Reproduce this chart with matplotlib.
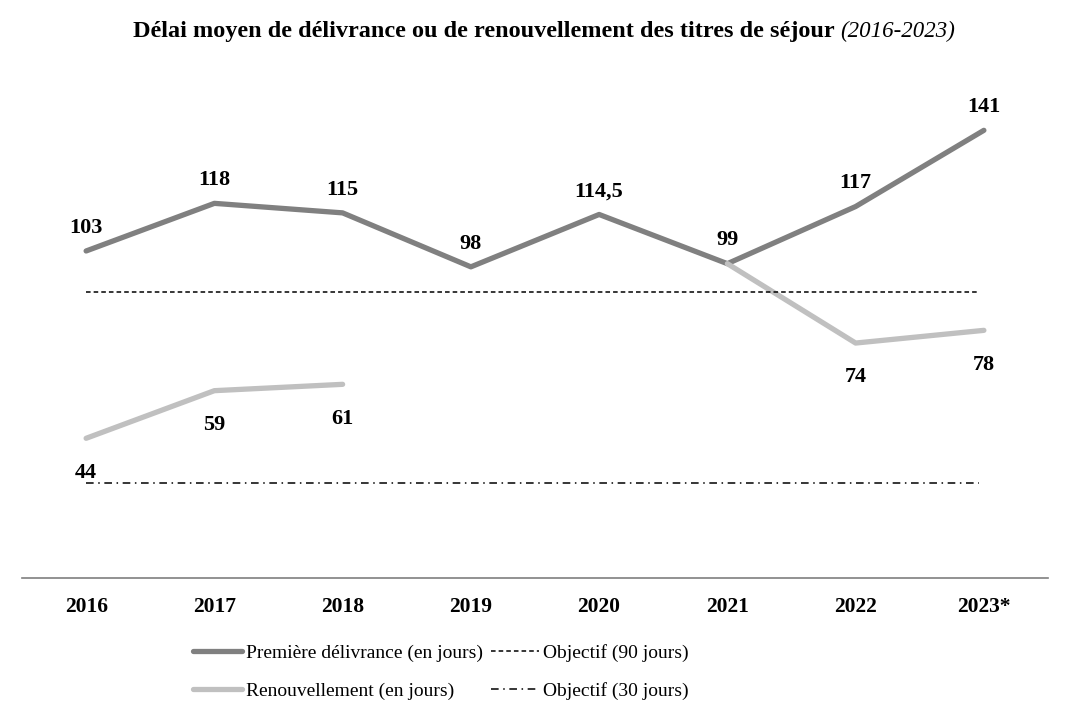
import matplotlib
matplotlib.use("Agg")
import matplotlib.pyplot as plt
import numpy as np

years = ["2016", "2017", "2018", "2019", "2020", "2021", "2022", "2023*"]
premiere = [103, 118, 115, 98, 114.5, 99, 117, 141]
renouv = [44, 59, 61, np.nan, np.nan, 99, 74, 78]
premiere_labels = ["103", "118", "115", "98", "114,5", "99", "117", "141"]
renouv_labels = ["44", "59", "61", "", "", "", "74", "78"]
objectif_1 = 90
objectif_2 = 30

plt.rcParams["font.family"] = ["Liberation Serif", "DejaVu Serif"]

fig = plt.figure(figsize=(10.7, 7.16), dpi=100)
ax = fig.add_axes([22 / 1070, 1 - 578 / 716, 1026 / 1070, 508 / 716])
x = np.arange(len(years))

l1, = ax.plot(x, premiere, color="#808080", lw=3.8, solid_capstyle="round",
              label="Première délivrance (en jours)", zorder=3)
l2, = ax.plot(x, renouv, color="#c0c0c0", lw=3.8, solid_capstyle="round",
              label="Renouvellement (en jours)", zorder=4)
l3, = ax.plot([x[0], x[-1] - 0.04], [objectif_1] * 2, color="black", lw=1.1,
              ls=(0, (3, 2)), label="Objectif (90 jours)", zorder=5)
l4, = ax.plot([x[0], x[-1] - 0.04], [objectif_2] * 2, color="black", lw=1.1,
              ls=(0, (5, 3, 1, 3)), label="Objectif (30 jours)", zorder=5)

for i, (v, t) in enumerate(zip(premiere, premiere_labels)):
    ax.annotate(t, (i, v), xytext=(0, 9.5), textcoords="offset points",
                ha="center", va="bottom", fontsize=16, fontweight="bold")
for i, (v, t) in enumerate(zip(renouv, renouv_labels)):
    if t:
        ax.annotate(t, (i, v), xytext=(0, -17.5), textcoords="offset points",
                    ha="center", va="top", fontsize=16, fontweight="bold")

ax.set_xlim(-0.5, 7.5)
ax.set_ylim(0, 160)
ax.set_yticks([])
ax.set_xticks(x)
ax.set_xticklabels(years, fontsize=15.5, fontweight="bold")
ax.tick_params(axis="x", length=0, pad=14)
for s in ["top", "left", "right"]:
    ax.spines[s].set_visible(False)
ax.spines["bottom"].set_color("#7f7f7f")
ax.spines["bottom"].set_linewidth(1.2)

fig.text(835 / 1070, 1 - 31 / 716,
         "Délai moyen de délivrance ou de renouvellement des titres de séjour",
         ha="right", va="center", fontsize=17.5, fontweight="bold")
fig.text(840 / 1070, 1 - 31 / 716, "(2016-2023)", ha="left", va="center",
         fontsize=16.5, fontstyle="italic")

leg = fig.legend(handles=[l1, l2, l3, l4], ncol=2, loc="center",
                 bbox_to_anchor=(441 / 1070, 1 - 672 / 716), frameon=False,
                 fontsize=14, handlelength=2.5, handletextpad=0.2,
                 columnspacing=0.4, labelspacing=1.05)

fig.savefig("out.png", dpi=100)
